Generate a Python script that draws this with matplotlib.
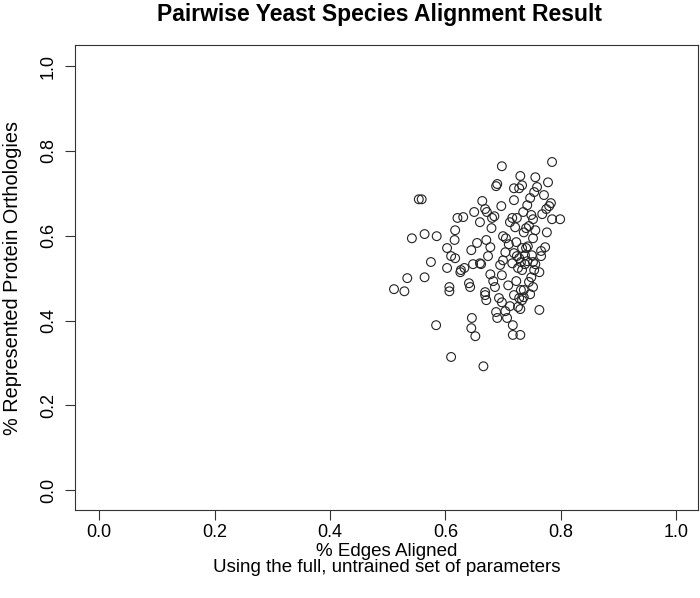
import matplotlib
matplotlib.use("Agg")
import matplotlib.pyplot as plt

plt.rcParams['font.family'] = ['Liberation Sans', 'DejaVu Sans']

edges_aligned = [
    0.554, 0.559, 0.542, 0.564, 0.585, 0.511, 0.529, 0.534, 0.564, 0.575,
    0.584, 0.610, 0.607, 0.607, 0.603, 0.603, 0.616, 0.617, 0.621, 0.631,
    0.610, 0.617, 0.627, 0.626, 0.641, 0.633, 0.645, 0.648, 0.643, 0.646,
    0.645, 0.652, 0.662, 0.650, 0.655, 0.660, 0.669, 0.669, 0.671, 0.666,
    0.660, 0.664, 0.669, 0.671, 0.672, 0.674, 0.678, 0.683, 0.686, 0.688,
    0.690, 0.678, 0.680, 0.681, 0.685, 0.688, 0.690, 0.698, 0.697, 0.700,
    0.705, 0.704, 0.700, 0.695, 0.698, 0.693, 0.698, 0.704, 0.707, 0.709,
    0.716, 0.710, 0.712, 0.716, 0.719, 0.719, 0.728, 0.730, 0.733, 0.721,
    0.724, 0.723, 0.719, 0.724, 0.728, 0.731, 0.726, 0.723, 0.719, 0.712,
    0.717, 0.717, 0.730, 0.728, 0.726, 0.730, 0.731, 0.736, 0.733, 0.736,
    0.733, 0.738, 0.742, 0.738, 0.733, 0.740, 0.743, 0.736, 0.740, 0.745,
    0.735, 0.742, 0.747, 0.754, 0.756, 0.759, 0.749, 0.752, 0.756, 0.752,
    0.750, 0.752, 0.756, 0.754, 0.749, 0.745, 0.752, 0.747, 0.763, 0.766,
    0.766, 0.763, 0.768, 0.771, 0.775, 0.780, 0.783, 0.778, 0.785, 0.785,
    0.799, 0.773, 0.776,
]
protein_orthologies = [
    0.686, 0.686, 0.594, 0.604, 0.599, 0.474, 0.469, 0.500, 0.502, 0.538,
    0.389, 0.314, 0.479, 0.469, 0.524, 0.571, 0.590, 0.613, 0.642, 0.644,
    0.552, 0.547, 0.519, 0.514, 0.488, 0.524, 0.566, 0.533, 0.479, 0.406,
    0.382, 0.363, 0.533, 0.656, 0.583, 0.535, 0.467, 0.460, 0.448, 0.292,
    0.632, 0.682, 0.663, 0.590, 0.656, 0.552, 0.509, 0.493, 0.479, 0.420,
    0.406, 0.573, 0.618, 0.642, 0.646, 0.717, 0.722, 0.764, 0.670, 0.599,
    0.594, 0.561, 0.542, 0.531, 0.507, 0.453, 0.443, 0.422, 0.406, 0.483,
    0.535, 0.580, 0.632, 0.642, 0.684, 0.712, 0.712, 0.741, 0.719, 0.620,
    0.642, 0.585, 0.559, 0.552, 0.547, 0.538, 0.524, 0.493, 0.460, 0.434,
    0.389, 0.366, 0.366, 0.453, 0.432, 0.427, 0.472, 0.472, 0.448, 0.455,
    0.519, 0.533, 0.540, 0.554, 0.571, 0.571, 0.575, 0.608, 0.618, 0.623,
    0.656, 0.672, 0.689, 0.703, 0.738, 0.715, 0.649, 0.639, 0.613, 0.594,
    0.554, 0.538, 0.533, 0.519, 0.502, 0.491, 0.479, 0.462, 0.514, 0.564,
    0.552, 0.425, 0.651, 0.696, 0.663, 0.670, 0.677, 0.726, 0.774, 0.639,
    0.639, 0.573, 0.608,
]

tick_vals = [0.0, 0.2, 0.4, 0.6, 0.8, 1.0]
tick_labels = ["0.0", "0.2", "0.4", "0.6", "0.8", "1.0"]

fig = plt.figure(figsize=(7.0, 5.98), dpi=100)
ax = fig.add_axes([75/700, 1-510/598, (698-75)/700, (510-45)/598])

ax.scatter(edges_aligned, protein_orthologies, s=40, facecolors='none',
           edgecolors='#222222', linewidths=0.8)

ax.set_xlim(-0.042, 1.038)
ax.set_ylim(-0.047, 1.05)
ax.set_xticks(tick_vals)
ax.set_xticklabels(tick_labels, fontsize=13)
ax.set_yticks(tick_vals)
ax.set_yticklabels(tick_labels, fontsize=13, rotation=90, va='center')
ax.tick_params(direction='out', length=7, width=0.8, color='#333333')
ax.tick_params(axis='x', pad=3)
ax.tick_params(axis='y', pad=6)
for s in ax.spines.values():
    s.set_linewidth(0.8)
    s.set_color('#333333')

cx = (75 + 698) / 2 / 700
fig.text(380/700, 1-14/598, "Pairwise Yeast Species Alignment Result",
         ha='center', va='center', fontsize=16.5, fontweight='bold')
fig.text(cx, 1-551/598, "% Edges Aligned", ha='center', va='center', fontsize=13.5)
fig.text(cx, 1-567/598, "Using the full, untrained set of parameters",
         ha='center', va='center', fontsize=13.5)
fig.text(13/700, 1-278/598, "% Represented Protein Orthologies", ha='center',
         va='center', rotation=90, fontsize=14.3)

fig.savefig("out.png", dpi=100)
